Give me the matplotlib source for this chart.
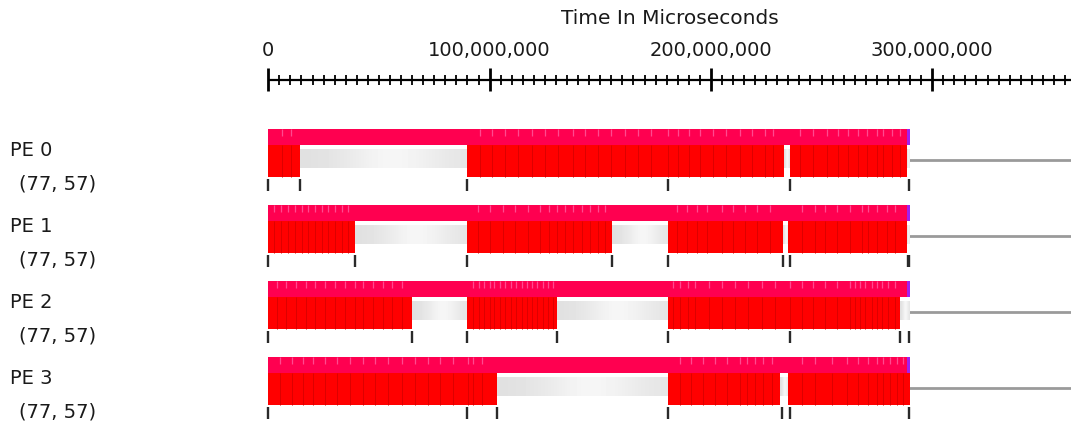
import numpy as np
import matplotlib
matplotlib.use("Agg")
import matplotlib.pyplot as plt

# ---- data (times in millions of microseconds) ----
pe_names = ["PE 0", "PE 1", "PE 2", "PE 3"]
pe_details = ["(77, 57)", "(77, 57)", "(77, 57)", "(77, 57)"]
run_end = [289.9, 289.9, 289.9, 289.9]

busy_pe0 = [(0.0, 14.3), (89.8, 233.0), (235.7, 288.6)]
busy_pe1 = [(0.0, 39.2), (89.8, 155.3), (180.6, 232.6), (234.9, 288.6)]
busy_pe2 = [(0.0, 64.9), (89.8, 130.5), (180.6, 285.6)]
busy_pe3 = [(0.0, 103.4), (180.6, 231.2), (235.0, 289.9)]

idle_pe0 = [(14.3, 89.8), (233.0, 235.7), (288.6, 289.9)]
idle_pe1 = [(39.2, 89.8), (155.3, 180.6), (232.6, 234.9), (288.6, 289.9)]
idle_pe2 = [(64.9, 89.8), (130.5, 180.6), (285.6, 289.9)]
idle_pe3 = [(103.4, 180.6), (231.2, 235.0)]

# boundaries between consecutive entry-method executions
entries_pe0 = [6.0, 10.1,
               95.5, 101.0, 107.0, 113.0, 119.0, 125.0, 131.0, 137.5, 143.0,
               149.0, 155.0, 161.0, 167.0, 173.0, 180.6, 185.0, 190.0, 195.0,
               201.0, 207.0, 213.0, 218.4, 224.4, 228.2,
               240.3, 246.3, 252.3, 257.6, 262.1, 266.6, 270.4, 274.9, 277.9,
               281.7, 285.4]
entries_pe1 = [2.8, 5.9, 9.1, 12.0, 15.2, 18.1, 21.0, 24.2, 27.1, 30.0, 33.2,
               36.1,
               94.9, 100.2, 106.2, 111.5, 117.5, 122.8, 126.7, 130.3, 134.1,
               137.8, 141.6, 145.3, 149.1, 152.2,
               184.5, 189.1, 193.6, 198.1, 204.9, 210.1, 215.4, 220.7, 226.7,
               241.0, 247.0, 251.6, 256.8, 262.9, 268.1, 271.1, 275.0, 279.4,
               283.2]
entries_pe2 = [4.0, 8.0, 12.5, 17.0, 21.0, 25.5, 30.0, 34.5, 39.0, 43.0, 47.5,
               52.0, 56.0, 60.5,
               92.5, 95.0, 97.5, 100.0, 102.0, 104.5, 107.0, 109.5, 112.0,
               114.5, 117.0, 119.0, 121.5, 124.0, 126.5, 128.5,
               183.0, 186.0, 189.8, 192.8, 199.0, 205.0, 211.0, 216.9, 222.9,
               229.0, 235.7, 241.0, 246.3, 251.6, 256.8, 262.9, 265.1, 267.4,
               269.6, 272.6, 274.9, 277.2, 280.2, 283.2]
entries_pe3 = [5.3, 10.6, 15.8, 20.3, 25.6, 30.9, 36.9, 42.9, 48.2, 54.2, 60.3,
               66.3, 72.3, 77.6, 83.6, 90.4, 92.6, 96.4,
               186.0, 191.0, 196.5, 202.0, 207.5, 213.0, 216.2, 219.9, 223.7,
               227.5,
               241.0, 247.0, 254.6, 261.4, 266.6, 271.1, 275.0, 277.9, 280.9,
               284.0, 286.9]

# message / event markers below each timeline
marks_pe0 = [0.0, 14.3, 89.8, 180.6, 235.7, 289.3]
marks_pe1 = [0.0, 39.2, 89.8, 155.3, 180.6, 232.6, 235.7, 288.9, 289.5]
marks_pe2 = [0.0, 64.9, 89.8, 130.3, 180.6, 235.7, 285.6, 289.3]
marks_pe3 = [0.0, 89.8, 103.4, 180.6, 232.0, 235.7, 289.3]

busy = [busy_pe0, busy_pe1, busy_pe2, busy_pe3]
idle = [idle_pe0, idle_pe1, idle_pe2, idle_pe3]
entries = [entries_pe0, entries_pe1, entries_pe2, entries_pe3]
marks = [marks_pe0, marks_pe1, marks_pe2, marks_pe3]

major_ticks = [0, 100_000_000, 200_000_000, 300_000_000]
minor_step = 5_000_000
axis_title = "Time In Microseconds"

US = 1e6  # microseconds per data unit

# ---- figure ----
W, H = 1071, 421
fig = plt.figure(figsize=(W / 100, H / 100), dpi=100)
ax = fig.add_axes([0, 0, 1, 1])
ax.axis("off")

px_per_us = 221.3 / 100_000_000
x0_px = 268.3
xmin = -x0_px / px_per_us
xmax = (W - x0_px) / px_per_us


def px_x(px):
    """Horizontal pixel position -> time coordinate."""
    return (px - x0_px) / px_per_us


font = dict(family="DejaVu Sans", color="#1a1a1a")

# ---- time ruler ----
axis_y = 80
ax.plot([0, xmax], [axis_y, axis_y], color="black", lw=1.6, solid_capstyle="butt")
minor = np.arange(0, xmax, minor_step)
minor = [m for m in minor if m not in major_ticks]
ax.vlines(minor, axis_y - 5, axis_y + 5, colors="black", lw=1.3)
ax.vlines(major_ticks, axis_y - 12, axis_y + 11, colors="black", lw=2.0)
for t in major_ticks:
    ax.text(t, 50.5, f"{t:,}", ha="center", va="center", fontsize=14, **font)
ax.text(px_x(670), 18, axis_title, ha="center", va="center", fontsize=14.5, **font)

# idle fill gradient (light grey, brightening in the middle)
grad = np.array([[0.88, 0.90, 0.93, 0.97, 0.96, 0.93, 0.90]])

pitch = 76
for i in range(4):
    top = 128.5 + pitch * i
    pink_h = 16
    red_top = top + pink_h
    red_h = 32.5
    idle_top, idle_bot = top + 21, top + 40

    # labels
    ax.text(px_x(10), top + 21.5, pe_names[i], ha="left", va="center",
            fontsize=14, **font)
    ax.text(px_x(19), top + 55.5, pe_details[i], ha="left", va="center",
            fontsize=14, **font)

    end = run_end[i] * US

    # trailing line after the run ends
    ax.plot([end, xmax], [top + 31.5, top + 31.5], color="#9a9a9a", lw=2)

    # idle intervals
    for s, e in idle[i]:
        ax.imshow(grad, extent=(s * US, e * US, idle_bot, idle_top),
                  aspect="auto", cmap="gray", vmin=0, vmax=1,
                  interpolation="bicubic", zorder=2)

    # busy intervals
    ax.broken_barh([(s * US, (e - s) * US) for s, e in busy[i]],
                   (red_top, red_h), facecolors="#ff0000", edgecolors="none",
                   zorder=3)
    ax.vlines(np.array(entries[i]) * US, red_top, red_top + red_h,
              colors="#dc0000", lw=0.7, zorder=4)

    # overhead band on top
    ax.broken_barh([(0, end)], (top, pink_h), facecolors="#ff0050",
                   edgecolors="none", zorder=3)
    ax.vlines(np.array(entries[i]) * US, top, top + 7,
              colors="#ff4a90", lw=0.9, zorder=4)
    ax.broken_barh([(end - 1.1 * US, 1.1 * US)], (top, pink_h),
                   facecolors="#a020f0", edgecolors="none", zorder=5)

    # event markers
    ax.vlines(np.array(marks[i]) * US, top + 50, top + 62,
              colors="#2a2a2a", lw=1.7, zorder=4)

ax.set_xlim(xmin, xmax)
ax.set_ylim(H, 0)
fig.savefig("out.png", dpi=100, facecolor="white")
